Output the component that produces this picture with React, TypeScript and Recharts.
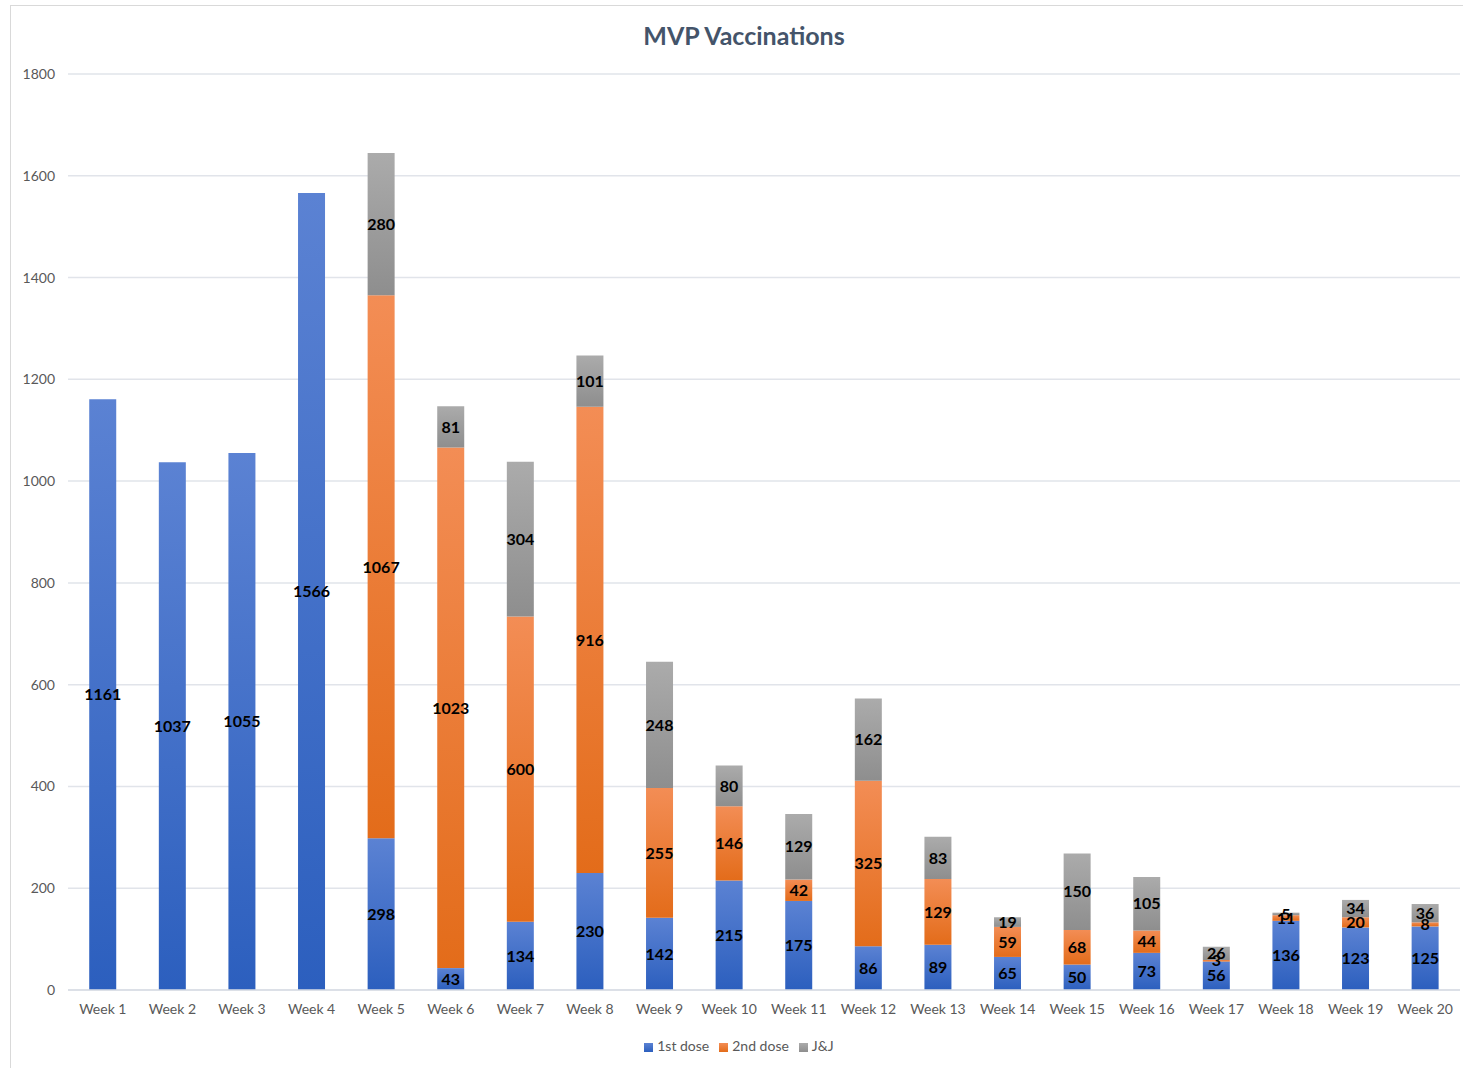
import React from 'react';
import { BarChart, Bar, XAxis, YAxis, CartesianGrid, Legend, LabelList } from 'recharts';

const weeks = [
  'Week 1', 'Week 2', 'Week 3', 'Week 4', 'Week 5', 'Week 6', 'Week 7', 'Week 8', 'Week 9', 'Week 10',
  'Week 11', 'Week 12', 'Week 13', 'Week 14', 'Week 15', 'Week 16', 'Week 17', 'Week 18', 'Week 19', 'Week 20',
];
const firstDose = [1161, 1037, 1055, 1566, 298, 43, 134, 230, 142, 215, 175, 86, 89, 65, 50, 73, 56, 136, 123, 125];
const secondDose = [null, null, null, null, 1067, 1023, 600, 916, 255, 146, 42, 325, 129, 59, 68, 44, 3, 11, 20, 8];
const jnj = [null, null, null, null, 280, 81, 304, 101, 248, 80, 129, 162, 83, 19, 150, 105, 26, 5, 34, 36];
const yTicks = [0, 200, 400, 600, 800, 1000, 1200, 1400, 1600, 1800];

const data = weeks.map((w, i) => ({
  name: w,
  first: firstDose[i],
  second: secondDose[i],
  jj: jnj[i],
}));

const FONT = 'Lato, "Open Sans", sans-serif';
const labelFmt = (v: any) => (v === null || v === undefined ? '' : v);
const labelStyle = { fill: '#000', fontWeight: 700, fontSize: 16, fontFamily: FONT };

export default function App() {
  return (
    <div style={{ position: 'absolute', left: 0, top: 0, width: 1463, height: 1068, background: '#fff', fontFamily: FONT }}>
      {/* chart frame */}
      <div style={{ position: 'absolute', left: 10, top: 5, width: 1460, height: 1070, border: '1px solid #d9d9d9', boxSizing: 'border-box' }} />
      <div style={{ position: 'absolute', left: 0, width: 1488, top: 20, textAlign: 'center', fontSize: 25, fontWeight: 700, color: '#44546a' }}>
        MVP Vaccinations
      </div>
      <div style={{ position: 'absolute', left: 0, top: 0 }}>
        <BarChart width={1463} height={1068} data={data} margin={{ top: 74, right: 3, bottom: 31, left: 0 }} barCategoryGap="30.5%">
          <defs>
            <linearGradient id="gBlue" x1="0" y1="0" x2="0" y2="1">
              <stop offset="0%" stopColor="#5b82d3" />
              <stop offset="100%" stopColor="#2c5fbe" />
            </linearGradient>
            <linearGradient id="gOrange" x1="0" y1="0" x2="0" y2="1">
              <stop offset="0%" stopColor="#f38d55" />
              <stop offset="100%" stopColor="#e36c1a" />
            </linearGradient>
            <linearGradient id="gGray" x1="0" y1="0" x2="0" y2="1">
              <stop offset="0%" stopColor="#ababab" />
              <stop offset="100%" stopColor="#8e8e8e" />
            </linearGradient>
          </defs>
          <CartesianGrid vertical={false} stroke="#e1e4ea" strokeWidth={1.5} />
          <XAxis
            dataKey="name"
            axisLine={{ stroke: '#d9dde5', strokeWidth: 1.5 }}
            tickLine={false}
            tickMargin={8}
            tick={{ fill: '#595959', fontSize: 14, fontFamily: FONT }}
            interval={0}
          />
          <YAxis
            width={68}
            domain={[0, 1800]}
            ticks={yTicks}
            axisLine={false}
            tickLine={false}
            tickMargin={7}
            tick={{ fill: '#595959', fontSize: 14, fontFamily: FONT }}
          />
          <Legend
            verticalAlign="bottom"
            iconType="square"
            iconSize={9}
            wrapperStyle={{ bottom: 14, left: 14, fontSize: 14, fontFamily: FONT }}
            formatter={(value: string) => <span style={{ color: '#595959' }}>{value}</span>}
          />
          <Bar dataKey="first" name="1st dose" stackId="a" fill="url(#gBlue)" isAnimationActive={false}>
            <LabelList dataKey="first" position="center" formatter={labelFmt} style={labelStyle} />
          </Bar>
          <Bar dataKey="second" name="2nd dose" stackId="a" fill="url(#gOrange)" isAnimationActive={false}>
            <LabelList dataKey="second" position="center" formatter={labelFmt} style={labelStyle} />
          </Bar>
          <Bar dataKey="jj" name="J&J" stackId="a" fill="url(#gGray)" isAnimationActive={false}>
            <LabelList dataKey="jj" position="center" formatter={labelFmt} style={labelStyle} />
          </Bar>
        </BarChart>
      </div>
    </div>
  );
}
